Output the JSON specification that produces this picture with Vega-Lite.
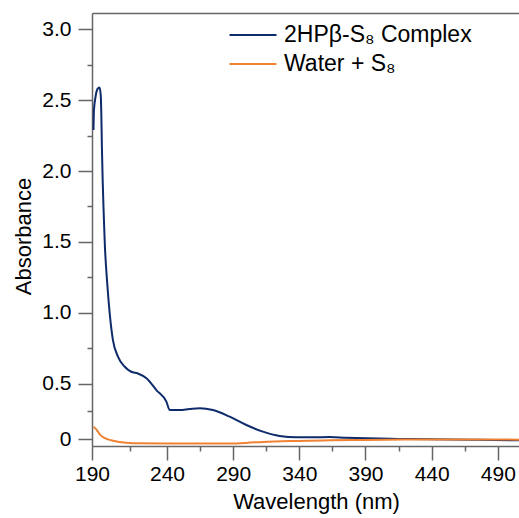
{
  "$schema": "https://vega.github.io/schema/vega-lite/v6.json",
  "width": 427,
  "height": 433,
  "autosize": {"type": "none"},
  "padding": {"left": 92, "top": 13, "right": 0, "bottom": 72},
  "config": {
    "font": "Liberation Sans",
    "view": {"stroke": null},
    "axis": {
      "grid": false,
      "labelFontSize": 21,
      "titleFontSize": 22,
      "titleFontWeight": "normal",
      "labelColor": "#000000",
      "titleColor": "#000000",
      "domainColor": "#666666",
      "tickColor": "#666666",
      "domainWidth": 1.5,
      "tickWidth": 1.5
    }
  },
  "data": {
    "values": [
      {"series": "2HPβ-S₈ Complex", "wavelength": 191, "absorbance": 2.29},
      {"series": "2HPβ-S₈ Complex", "wavelength": 191.3, "absorbance": 2.43},
      {"series": "2HPβ-S₈ Complex", "wavelength": 192.3, "absorbance": 2.52},
      {"series": "2HPβ-S₈ Complex", "wavelength": 193.7, "absorbance": 2.58},
      {"series": "2HPβ-S₈ Complex", "wavelength": 195, "absorbance": 2.59},
      {"series": "2HPβ-S₈ Complex", "wavelength": 195.8, "absorbance": 2.54},
      {"series": "2HPβ-S₈ Complex", "wavelength": 196.2, "absorbance": 2.41},
      {"series": "2HPβ-S₈ Complex", "wavelength": 196.6, "absorbance": 2.17},
      {"series": "2HPβ-S₈ Complex", "wavelength": 197.1, "absorbance": 1.94},
      {"series": "2HPβ-S₈ Complex", "wavelength": 197.8, "absorbance": 1.70},
      {"series": "2HPβ-S₈ Complex", "wavelength": 198.6, "absorbance": 1.47},
      {"series": "2HPβ-S₈ Complex", "wavelength": 200, "absorbance": 1.23},
      {"series": "2HPβ-S₈ Complex", "wavelength": 201.8, "absorbance": 0.995},
      {"series": "2HPβ-S₈ Complex", "wavelength": 203.9, "absorbance": 0.81},
      {"series": "2HPβ-S₈ Complex", "wavelength": 207.3, "absorbance": 0.69},
      {"series": "2HPβ-S₈ Complex", "wavelength": 211.7, "absorbance": 0.62},
      {"series": "2HPβ-S₈ Complex", "wavelength": 216.1, "absorbance": 0.583},
      {"series": "2HPβ-S₈ Complex", "wavelength": 220.6, "absorbance": 0.571},
      {"series": "2HPβ-S₈ Complex", "wavelength": 226.3, "absorbance": 0.537},
      {"series": "2HPβ-S₈ Complex", "wavelength": 232.9, "absorbance": 0.441},
      {"series": "2HPβ-S₈ Complex", "wavelength": 239.6, "absorbance": 0.336},
      {"series": "2HPβ-S₈ Complex", "wavelength": 242, "absorbance": 0.262},
      {"series": "2HPβ-S₈ Complex", "wavelength": 249.6, "absorbance": 0.261},
      {"series": "2HPβ-S₈ Complex", "wavelength": 257, "absorbance": 0.27},
      {"series": "2HPβ-S₈ Complex", "wavelength": 264.7, "absorbance": 0.277},
      {"series": "2HPβ-S₈ Complex", "wavelength": 274.7, "absorbance": 0.261},
      {"series": "2HPβ-S₈ Complex", "wavelength": 287.4, "absorbance": 0.201},
      {"series": "2HPβ-S₈ Complex", "wavelength": 300, "absorbance": 0.126},
      {"series": "2HPβ-S₈ Complex", "wavelength": 312.5, "absorbance": 0.066},
      {"series": "2HPβ-S₈ Complex", "wavelength": 325.1, "absorbance": 0.027},
      {"series": "2HPβ-S₈ Complex", "wavelength": 337.7, "absorbance": 0.015},
      {"series": "2HPβ-S₈ Complex", "wavelength": 350.3, "absorbance": 0.015},
      {"series": "2HPβ-S₈ Complex", "wavelength": 362.9, "absorbance": 0.018},
      {"series": "2HPβ-S₈ Complex", "wavelength": 375, "absorbance": 0.012},
      {"series": "2HPβ-S₈ Complex", "wavelength": 390.6, "absorbance": 0.006},
      {"series": "2HPβ-S₈ Complex", "wavelength": 415, "absorbance": 0.001},
      {"series": "2HPβ-S₈ Complex", "wavelength": 440.7, "absorbance": -0.003},
      {"series": "2HPβ-S₈ Complex", "wavelength": 470, "absorbance": -0.006},
      {"series": "2HPβ-S₈ Complex", "wavelength": 506, "absorbance": -0.012},
      {"series": "Water + S₈", "wavelength": 191, "absorbance": 0.111},
      {"series": "Water + S₈", "wavelength": 193, "absorbance": 0.085},
      {"series": "Water + S₈", "wavelength": 195.3, "absorbance": 0.04},
      {"series": "Water + S₈", "wavelength": 198, "absorbance": 0.012},
      {"series": "Water + S₈", "wavelength": 200.6, "absorbance": -0.003},
      {"series": "Water + S₈", "wavelength": 204, "absorbance": -0.015},
      {"series": "Water + S₈", "wavelength": 207.3, "absorbance": -0.024},
      {"series": "Water + S₈", "wavelength": 213, "absorbance": -0.033},
      {"series": "Water + S₈", "wavelength": 220.6, "absorbance": -0.039},
      {"series": "Water + S₈", "wavelength": 255, "absorbance": -0.04},
      {"series": "Water + S₈", "wavelength": 287, "absorbance": -0.04},
      {"series": "Water + S₈", "wavelength": 300, "absorbance": -0.035},
      {"series": "Water + S₈", "wavelength": 312.5, "absorbance": -0.026},
      {"series": "Water + S₈", "wavelength": 337.7, "absorbance": -0.017},
      {"series": "Water + S₈", "wavelength": 363, "absorbance": -0.012},
      {"series": "Water + S₈", "wavelength": 390, "absorbance": -0.008},
      {"series": "Water + S₈", "wavelength": 420, "absorbance": -0.005},
      {"series": "Water + S₈", "wavelength": 460, "absorbance": -0.004},
      {"series": "Water + S₈", "wavelength": 506, "absorbance": -0.006}
    ]
  },
  "layer": [
    {
      "mark": {"type": "line", "strokeWidth": 2, "interpolate": "monotone"},
      "encoding": {
        "x": {
          "field": "wavelength",
          "type": "quantitative",
          "scale": {"domain": [190, 240, 506], "range": [0, 75, 427], "zero": false, "nice": false},
          "axis": {
            "title": "Wavelength (nm)",
            "values": [190, 215, 240, 265, 290, 315, 340, 365, 390, 415, 440, 465, 490],
            "format": "d",
            "labelFlush": false,
            "labelExpr": "datum.value % 50 == 40 ? datum.label : ''",
            "tickSize": {"condition": {"test": "datum.value % 50 == 40", "value": 14}, "value": 5},
            "labelPadding": 3,
            "titlePadding": 7,
            "titleX": 224
          }
        },
        "y": {
          "field": "absorbance",
          "type": "quantitative",
          "scale": {"domain": [-0.063, 0, 0.5, 3.116], "range": [433, 426, 370.5, 0], "zero": false, "nice": false},
          "axis": {
            "title": "Absorbance",
            "values": [0, 0.25, 0.5, 0.75, 1, 1.25, 1.5, 1.75, 2, 2.25, 2.5, 2.75, 3],
            "labelExpr": "datum.value == 0 ? '0' : (datum.value * 2 == round(datum.value * 2) ? format(datum.value, '.1f') : '')",
            "tickSize": {"condition": {"test": "datum.value * 2 == round(datum.value * 2)", "value": 14}, "value": 5},
            "labelPadding": 7,
            "titlePadding": 6,
            "titleY": 223
          }
        },
        "color": {
          "field": "series",
          "type": "nominal",
          "scale": {"domain": ["2HPβ-S₈ Complex", "Water + S₈"], "range": ["#0E2B6C", "#EF8233"]},
          "legend": {
            "title": null,
            "orient": "none",
            "legendX": 148,
            "legendY": 9,
            "symbolType": "M-2,0H2",
            "symbolSize": 552,
            "symbolStrokeWidth": 2,
            "labelFontSize": 23,
            "labelColor": "#000000",
            "labelLimit": 0,
            "labelOffset": 18,
            "rowPadding": 4,
            "padding": 0
          }
        }
      }
    },
    {
      "mark": {"type": "point", "opacity": 0},
      "encoding": {
        "x": {
          "field": "wavelength",
          "type": "quantitative",
          "scale": {"domain": [190, 240, 506], "range": [0, 75, 427], "zero": false, "nice": false},
          "axis": {"orient": "top", "labels": false, "ticks": false, "title": null}
        }
      }
    }
  ],
  "resolve": {"axis": {"x": "independent"}}
}
